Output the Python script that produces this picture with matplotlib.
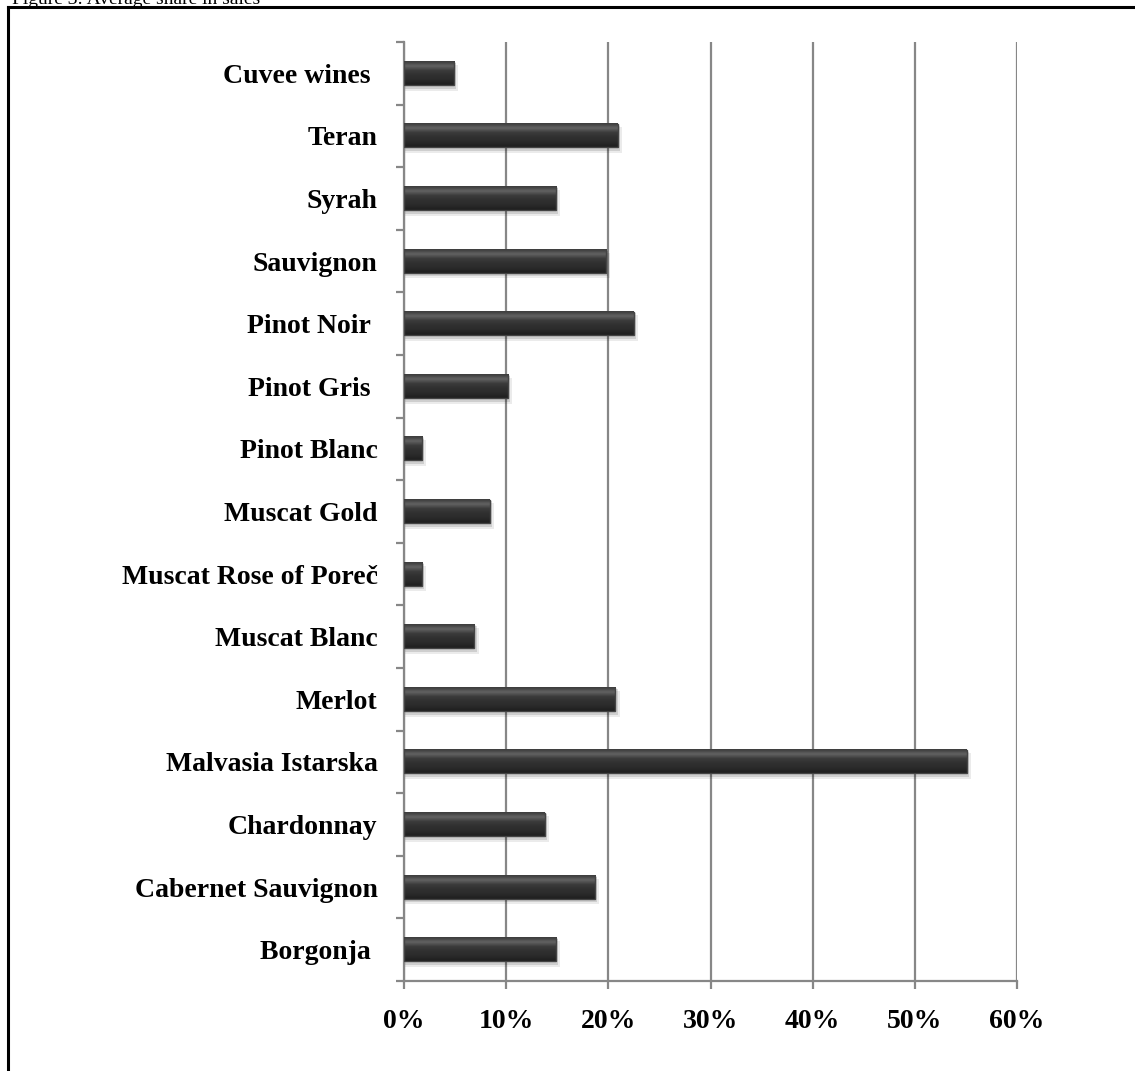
#!usr/bin/python3

import numpy as np
import matplotlib
matplotlib.use('Agg')
import matplotlib.pyplot as plt
from matplotlib.colors import LinearSegmentedColormap
from matplotlib.ticker import FixedLocator, PercentFormatter

# wine varieties, bottom to top as they appear on the chart
varieties = ['Borgonja ', 'Cabernet Sauvignon', 'Chardonnay', 'Malvasia Istarska',
             'Merlot', 'Muscat Blanc', 'Muscat Rose of Poreč', 'Muscat Gold',
             'Pinot Blanc', 'Pinot Gris ', 'Pinot Noir ', 'Sauvignon', 'Syrah',
             'Teran', 'Cuvee wines ']
# average share in sales
shares = [0.149, 0.187, 0.138, 0.551, 0.207, 0.069, 0.018, 0.084,
          0.018, 0.102, 0.225, 0.198, 0.149, 0.209, 0.049]
x_ticks = [0.0, 0.1, 0.2, 0.3, 0.4, 0.5, 0.6]

W, H, DPI = 1135, 1071, 100
plt.rcParams['font.family'] = ['Liberation Serif', 'DejaVu Serif']
plt.rcParams['font.weight'] = 'bold'

fig = plt.figure(figsize=(W / DPI, H / DPI), dpi=DPI)
ax = fig.add_axes([404 / W, 1 - 981 / H, (1017 - 404) / W, (981 - 42) / H])

pos = np.arange(len(varieties))
bar_h = 0.37
grid_col = '#878787'

# bevel shading: light rim on top, dark body, darker bottom edge
bevel = LinearSegmentedColormap.from_list(
    'bevel', ['#1e1e1e', '#2a2a2a', '#303030', '#3a3a3a', '#626262', '#3c3c3c'])
grad = np.linspace(0, 1, 64).reshape(-1, 1)

# soft drop shadow under each bar
for dx, dy, a in [(0.004, -0.07, 0.08), (0.002, -0.04, 0.12)]:
    ax.barh(pos + dy, np.array(shares) + dx, height=bar_h + 0.04, left=0.0,
            color='#000000', alpha=a, linewidth=0, zorder=2)

for p, v in zip(pos, shares):
    ax.imshow(grad, cmap=bevel, aspect='auto', origin='lower', zorder=3,
              extent=(0, v, p - bar_h / 2, p + bar_h / 2), interpolation='bilinear')
ax.barh(pos, shares, height=bar_h, color='none', edgecolor='#444444',
        linewidth=1.0, zorder=4)

ax.set_xlim(0, 0.6)
ax.set_ylim(-0.5, len(varieties) - 0.5)

ax.set_xticks(x_ticks)
ax.xaxis.set_major_formatter(PercentFormatter(1.0, decimals=0))
ax.grid(axis='x', color=grid_col, linewidth=1.6, zorder=0)
ax.set_axisbelow(True)

ax.set_yticks(pos)
ax.set_yticklabels(varieties)
ax.yaxis.set_minor_locator(FixedLocator(np.arange(-0.5, len(varieties), 1.0)))
ax.tick_params(axis='y', which='major', length=0, pad=19, labelsize=20)
ax.tick_params(axis='y', which='minor', length=6, width=1.6, color=grid_col)
ax.tick_params(axis='x', which='major', length=6, width=1.6, color=grid_col,
               pad=14, labelsize=20)

for side in ['top', 'right']:
    ax.spines[side].set_visible(False)
for side in ['left', 'bottom']:
    ax.spines[side].set_color(grid_col)
    ax.spines[side].set_linewidth(1.6)

# frame around the figure panel and the caption above it
fig.add_artist(plt.Line2D([8 / W, 8 / W], [0, 1 - 7 / H], color='black',
                          linewidth=2.2, transform=fig.transFigure))
fig.add_artist(plt.Line2D([8 / W, 1], [1 - 7 / H, 1 - 7 / H], color='black',
                          linewidth=2.2, transform=fig.transFigure))
fig.text(12 / W, 1 - 4 / H, 'Figure 3: Average share in sales', fontsize=14,
         fontweight='normal', va='baseline', ha='left')

fig.savefig('out.png', dpi=DPI)
